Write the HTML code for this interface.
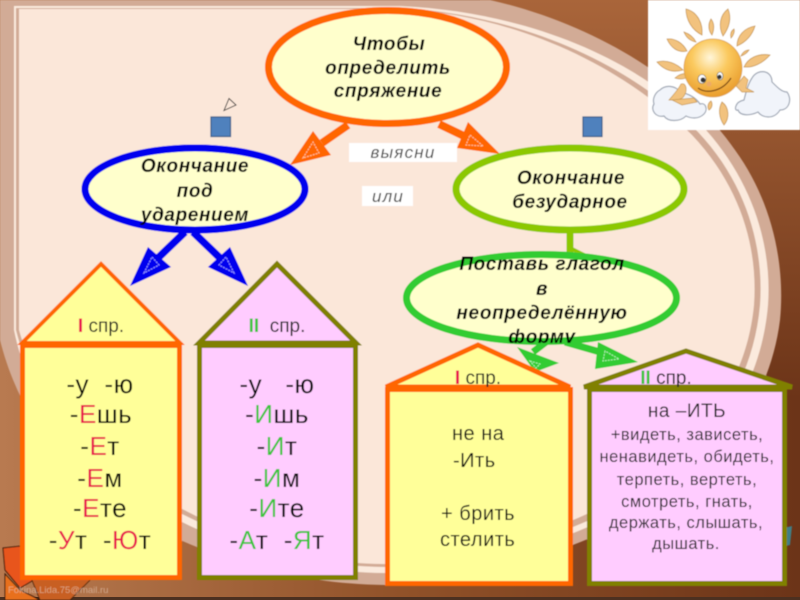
<!DOCTYPE html>
<html><head><meta charset="utf-8"><style>
html,body{margin:0;padding:0;background:#8a4a24}
svg{display:block}
text{font-family:"Liberation Sans","DejaVu Sans",sans-serif}
.h{font-weight:bold;font-style:italic;font-size:19px;letter-spacing:.6px;fill:#000;text-anchor:middle}
.big{font-size:26px;fill:#000;text-anchor:middle;letter-spacing:.5px}
.r{fill:#e8174f}.g{fill:#3cc43c}
.t{font-size:19px;fill:#222;text-anchor:middle}
.m{font-size:20px;fill:#111;letter-spacing:.5px}
.s{font-size:16.5px;fill:#222;text-anchor:middle;letter-spacing:.5px}
</style></head><body>
<svg width="800" height="600" viewBox="0 0 800 600" xmlns="http://www.w3.org/2000/svg">
<defs>
<linearGradient id="bg" x1="0" y1="0" x2="1" y2="0"><stop offset="0" stop-color="#b87a50"/><stop offset=".5" stop-color="#915229"/><stop offset="1" stop-color="#6c3418"/></linearGradient>
<linearGradient id="tr" x1="0" y1="0" x2="0" y2="1"><stop offset="0" stop-color="#a9653a"/><stop offset="1" stop-color="#6c3418"/></linearGradient>
<radialGradient id="sun" cx=".45" cy=".32" r=".7"><stop offset="0" stop-color="#fff6da"/><stop offset=".45" stop-color="#fbc95e"/><stop offset="1" stop-color="#e89a2a"/></radialGradient>
<clipPath id="fc"><rect x="480" y="320" width="130" height="23"/></clipPath>
<filter id="b" x="-5%" y="-5%" width="110%" height="110%"><feGaussianBlur stdDeviation=".45"/></filter>
</defs>
<rect width="800" height="600" fill="url(#bg)"/>
<rect x="480" y="0" width="320" height="400" fill="url(#tr)"/>
<rect x="0" y="597" width="800" height="3" fill="#4c3020"/>
<g filter="url(#b)">
<path d="M0 0H490C600 25 690 85 735 150C775 205 785 270 780 320C770 400 720 470 640 515C560 555 470 585 390 585C300 585 210 560 130 515C70 480 20 420 0 340Z" fill="#d2ab96"/>
<path d="M14 6H400C530 12 640 60 706 130C755 185 772 250 768 305C760 400 700 470 620 512C540 552 460 572 388 573C300 573 220 545 150 505C80 465 30 410 14 330Z" fill="#fbeadd"/>
<path d="M16 8H400C525 15 630 65 698 132C748 185 764 250 760 305C752 395 695 465 615 508C535 548 455 566 388 567C300 567 225 538 155 500C85 460 35 405 16 330Z" fill="#d2ab96"/>
<path d="M19 9H400C520 15 625 68 692 135C742 188 758 250 754 305C746 390 690 460 610 503C530 543 450 563 385 564C300 564 228 535 160 497C90 457 38 400 19 330Z" fill="#fbe7d9"/>

<!-- bricks -->
<path d="M3 548L30 545L42 575L20 588L5 570Z" fill="#e8541a" stroke="#3a1a08"/>
<path d="M5 574L20 590L40 600H5Z" fill="#e8701f" stroke="#3a1a08"/>
<path d="M30 575L92 578L70 600H40Z" fill="#c85f20" stroke="#3a1a08" stroke-width=".8"/>
<path d="M776 530L792 526L790 545L778 548Z" fill="#3f7f86"/>
<text x="8" y="593" font-size="9.5" fill="#e8cdbd" opacity=".6">Fokina.Lida.75@mail.ru</text>

<!-- blue squares and marker -->
<rect x="211" y="117" width="19.5" height="19.5" fill="#4f81bd" stroke="#385d8a" stroke-width="1.2"/>
<rect x="583" y="117" width="19" height="19.5" fill="#4f81bd" stroke="#385d8a" stroke-width="1.2"/>
<path d="M229 98.500L236 105L224 110.500Z" fill="#fbe7d9" stroke="#222" stroke-width=".9"/>

<!-- arrows -->
<path d="M348 125L322 143" stroke="#ff6600" stroke-width="8" fill="none"/>
<path d="M290 165L313 131L331 155Z" fill="#ff6600"/>
<path d="M303 158L313 142L319 153Z" fill="none" stroke="#ffc9a0" stroke-width="1" stroke-dasharray="2 1"/>
<path d="M439 124L466 137" stroke="#ff6600" stroke-width="8" fill="none"/>
<path d="M500 154L468 122L457 148Z" fill="#ff6600"/>
<path d="M483 146L470 135L466 145Z" fill="none" stroke="#ffc9a0" stroke-width="1" stroke-dasharray="2 1"/>
<path d="M185 232L158 258" stroke="#0000ee" stroke-width="7.500" fill="none"/>
<path d="M130 286L148 247L171 267Z" fill="#0000ee"/>
<path d="M144 273L152 257L159 265Z" fill="none" stroke="#9a9aff" stroke-width="1" stroke-dasharray="2 1"/>
<path d="M193 232L220 258" stroke="#0000ee" stroke-width="7.500" fill="none"/>
<path d="M248 286L230 247L208 267Z" fill="#0000ee"/>
<path d="M234 273L226 257L219 265Z" fill="none" stroke="#9a9aff" stroke-width="1" stroke-dasharray="2 1"/>
<path d="M570 233V256" stroke="#8cc800" stroke-width="7" fill="none"/>
<path d="M570 248L590 258" stroke="#8cc800" stroke-width="4" fill="none"/>
<path d="M546 342L533 352" stroke="#33cc33" stroke-width="7" fill="none"/>
<path d="M517 347L559 363L535 372Z" fill="#33cc33"/>
<path d="M530 361L540 364L536 368Z" fill="none" stroke="#b6f0b6" stroke-width="1" stroke-dasharray="2 1"/>
<path d="M565 342L600 352" stroke="#33cc33" stroke-width="7" fill="none"/>
<path d="M598 342L595 369L638 362Z" fill="#33cc33"/>
<path d="M605 351L603 361L619 359Z" fill="none" stroke="#b6f0b6" stroke-width="1" stroke-dasharray="2 1"/>

<!-- ellipses -->
<ellipse cx="387.500" cy="67" rx="119" ry="56.500" fill="#ffffcc" stroke="#ff6600" stroke-width="7"/>
<ellipse cx="195" cy="189" rx="110" ry="41" fill="#ffffcc" stroke="#0000ee" stroke-width="7"/>
<ellipse cx="570" cy="189" rx="114" ry="41" fill="#ffffcc" stroke="#8cc800" stroke-width="7"/>
<ellipse cx="541.500" cy="298" rx="135" ry="43.500" fill="#ffffcc" stroke="#33cc33" stroke-width="7"/>

<text class="h" x="389" y="50">Чтобы</text>
<text class="h" x="388" y="74">определить</text>
<text class="h" x="388" y="97">спряжение</text>
<text class="h" x="195" y="172">Окончание</text>
<text class="h" x="195" y="197">под</text>
<text class="h" x="195" y="221">ударением</text>
<text class="h" x="571" y="184">Окончание</text>
<text class="h" x="570" y="208">безударное</text>
<text class="h" x="542" y="270">Поставь глагол</text>
<text class="h" x="542" y="295">в</text>
<text class="h" x="542" y="319">неопределённую</text>
<text class="h" x="542" y="343" clip-path="url(#fc)">форму</text>

<!-- label boxes -->
<rect x="349" y="143" width="108" height="19" fill="#fff"/>
<rect x="362" y="186" width="51" height="20" fill="#fff"/>
<text x="403" y="158" font-size="17" font-style="italic" fill="#444" text-anchor="middle" letter-spacing="1.200">выясни</text>
<text x="388" y="202" font-size="17" font-style="italic" fill="#444" text-anchor="middle" letter-spacing="1.200">или</text>

<!-- house 1 -->
<path d="M22 343L101 264L180 343Z" fill="#ffff99" stroke="#ff6600" stroke-width="4"/>
<rect x="22.500" y="345.500" width="157" height="232" fill="#ffff99" stroke="#ff6600" stroke-width="5"/>
<text class="t" x="101" y="332"><tspan fill="#e8174f" font-weight="bold">I</tspan> спр.</text>
<text class="big" x="100" y="393" xml:space="preserve">-у  -ю</text>
<text class="big" x="101" y="423">-<tspan class="r">Е</tspan>шь</text>
<text class="big" x="100" y="455">-<tspan class="r">Е</tspan>т</text>
<text class="big" x="100" y="487">-<tspan class="r">Е</tspan>м</text>
<text class="big" x="100" y="517">-<tspan class="r">Е</tspan>те</text>
<text class="big" x="100" y="549" xml:space="preserve">-<tspan class="r">У</tspan>т  -<tspan class="r">Ю</tspan>т</text>

<!-- house 2 -->
<path d="M199 343L277 264L356 343Z" fill="#ffccff" stroke="#808000" stroke-width="5"/>
<rect x="199.500" y="345.500" width="156" height="232" fill="#ffccff" stroke="#808000" stroke-width="5"/>
<text class="t" x="277" y="332" xml:space="preserve"><tspan fill="#3cc43c" font-weight="bold">II</tspan>  спр.</text>
<text class="big" x="277" y="393" xml:space="preserve">-у   -ю</text>
<text class="big" x="277" y="423">-<tspan class="g">И</tspan>шь</text>
<text class="big" x="277" y="455">-<tspan class="g">И</tspan>т</text>
<text class="big" x="277" y="487">-<tspan class="g">И</tspan>м</text>
<text class="big" x="277" y="517">-<tspan class="g">И</tspan>те</text>
<text class="big" x="277" y="549" xml:space="preserve">-<tspan class="g">А</tspan>т  -<tspan class="g">Я</tspan>т</text>

<!-- house 3 -->
<path d="M386 387L478 345L570 387Z" fill="#ffff99" stroke="#ff6600" stroke-width="5"/>
<text class="t" x="478" y="384"><tspan fill="#e8174f" font-weight="bold">I</tspan> спр.</text>
<rect x="387.500" y="389.500" width="183" height="194" fill="#ffff99" stroke="#ff6600" stroke-width="5"/>
<text class="m" x="452" y="440">не на</text>
<text class="m" x="453" y="467">-Ить</text>
<text class="m" x="441" y="520">+ брить</text>
<text class="m" x="440" y="546">стелить</text>

<!-- house 4 -->
<path d="M584 387L686 351L792 387Z" fill="#ffccff" stroke="#808000" stroke-width="5"/>
<text class="t" x="666" y="384"><tspan fill="#3cc43c" font-weight="bold">II</tspan> спр.</text>
<rect x="589.500" y="389.500" width="195" height="194" fill="#ffccff" stroke="#808000" stroke-width="5"/>
<text x="687" y="417" font-size="19" fill="#222" text-anchor="middle" letter-spacing=".5">на –ИТЬ</text>
<text class="s" x="687" y="440">+видеть, зависеть,</text>
<text class="s" x="687" y="462">ненавидеть, обидеть,</text>
<text class="s" x="687" y="485">терпеть, вертеть,</text>
<text class="s" x="687" y="507">смотреть, гнать,</text>
<text class="s" x="686" y="528">держать, слышать,</text>
<text class="s" x="686" y="549">дышать.</text>

<!-- sun picture -->
<rect x="648" y="0" width="152" height="130" fill="#fff"/>
<g fill="#f2c27e" stroke="#c89850" stroke-width=".8">
<path d="M686 9C698 12 703 24 702 35C692 30 686 20 686 9Z"/>
<path d="M728 9C732 18 729 28 723 36C718 26 720 15 728 9Z"/>
<path d="M755 26C752 36 746 42 737 46C737 36 744 28 755 26Z"/>
<path d="M770 55C762 64 752 68 744 67C748 58 758 53 770 55Z"/>
<path d="M667 39C675 38 683 43 687 51C678 53 671 48 667 39Z"/>
<path d="M657 62C667 59 677 64 683 70C673 73 664 70 657 62Z"/>
<path d="M711 19C715 24 714 30 712 35C708 30 708 24 711 19Z"/>
<path d="M684 32C690 34 694 38 696 42C690 41 686 37 684 32Z"/>
<path d="M734 29C735 32 733 36 731 38C730 34 731 31 734 29Z"/>
<path d="M675 78C680 73 686 73 691 74C687 79 681 80 675 78Z"/>
<path d="M749 50C747 53 744 55 741 56C742 53 745 50 749 50Z"/>
<path d="M722 102C729 107 730 118 724 125C719 118 718 109 722 102Z"/>
<path d="M711 101C713 104 712 108 709 110C707 107 708 103 711 101Z"/>
</g>
<g fill="#f1f4fa" stroke="#9ea6b4" stroke-width="1.200">
<path d="M660 90C666 84 676 86 680 92C690 94 696 98 700 104C706 102 708 110 704 114C698 120 690 118 686 116C680 122 668 122 664 116C656 118 650 110 654 104C652 98 656 92 660 90Z"/>
<path d="M752 78C758 68 772 70 772 82C778 88 782 92 787 92C792 98 790 110 780 110C774 120 762 118 758 112C750 116 740 116 738 110C734 112 734 102 744 100C746 92 748 84 752 78Z"/>
</g>
<g fill="#f2c27e" stroke="#c89850" stroke-width=".7">
<path d="M681 84C686 82 688 90 684 96C682 100 676 100 669 100C674 94 678 90 681 84Z"/>
<path d="M672 100L694 98L697 102L682 105Z"/>
<path d="M736 86L744 76L748 80L746 88L754 92L742 92Z"/>
</g>
<circle cx="713" cy="68" r="29" fill="url(#sun)" stroke="#d8a050" stroke-width=".8"/>
<ellipse cx="702" cy="79" rx="4" ry="4.500" fill="#fff" stroke="#555" stroke-width=".6"/>
<circle cx="703" cy="80" r="2.500" fill="#333"/>
<ellipse cx="720" cy="76" rx="3" ry="4" fill="#fff" stroke="#555" stroke-width=".6"/>
<circle cx="719.500" cy="77" r="2.200" fill="#333"/>
<circle cx="709" cy="84" r="2.500" fill="#eeaa66"/>
<path d="M698 88C706 94 722 92 731 78" fill="none" stroke="#7a4a18" stroke-width="1.200"/>
</g>
</svg>
</body></html>
